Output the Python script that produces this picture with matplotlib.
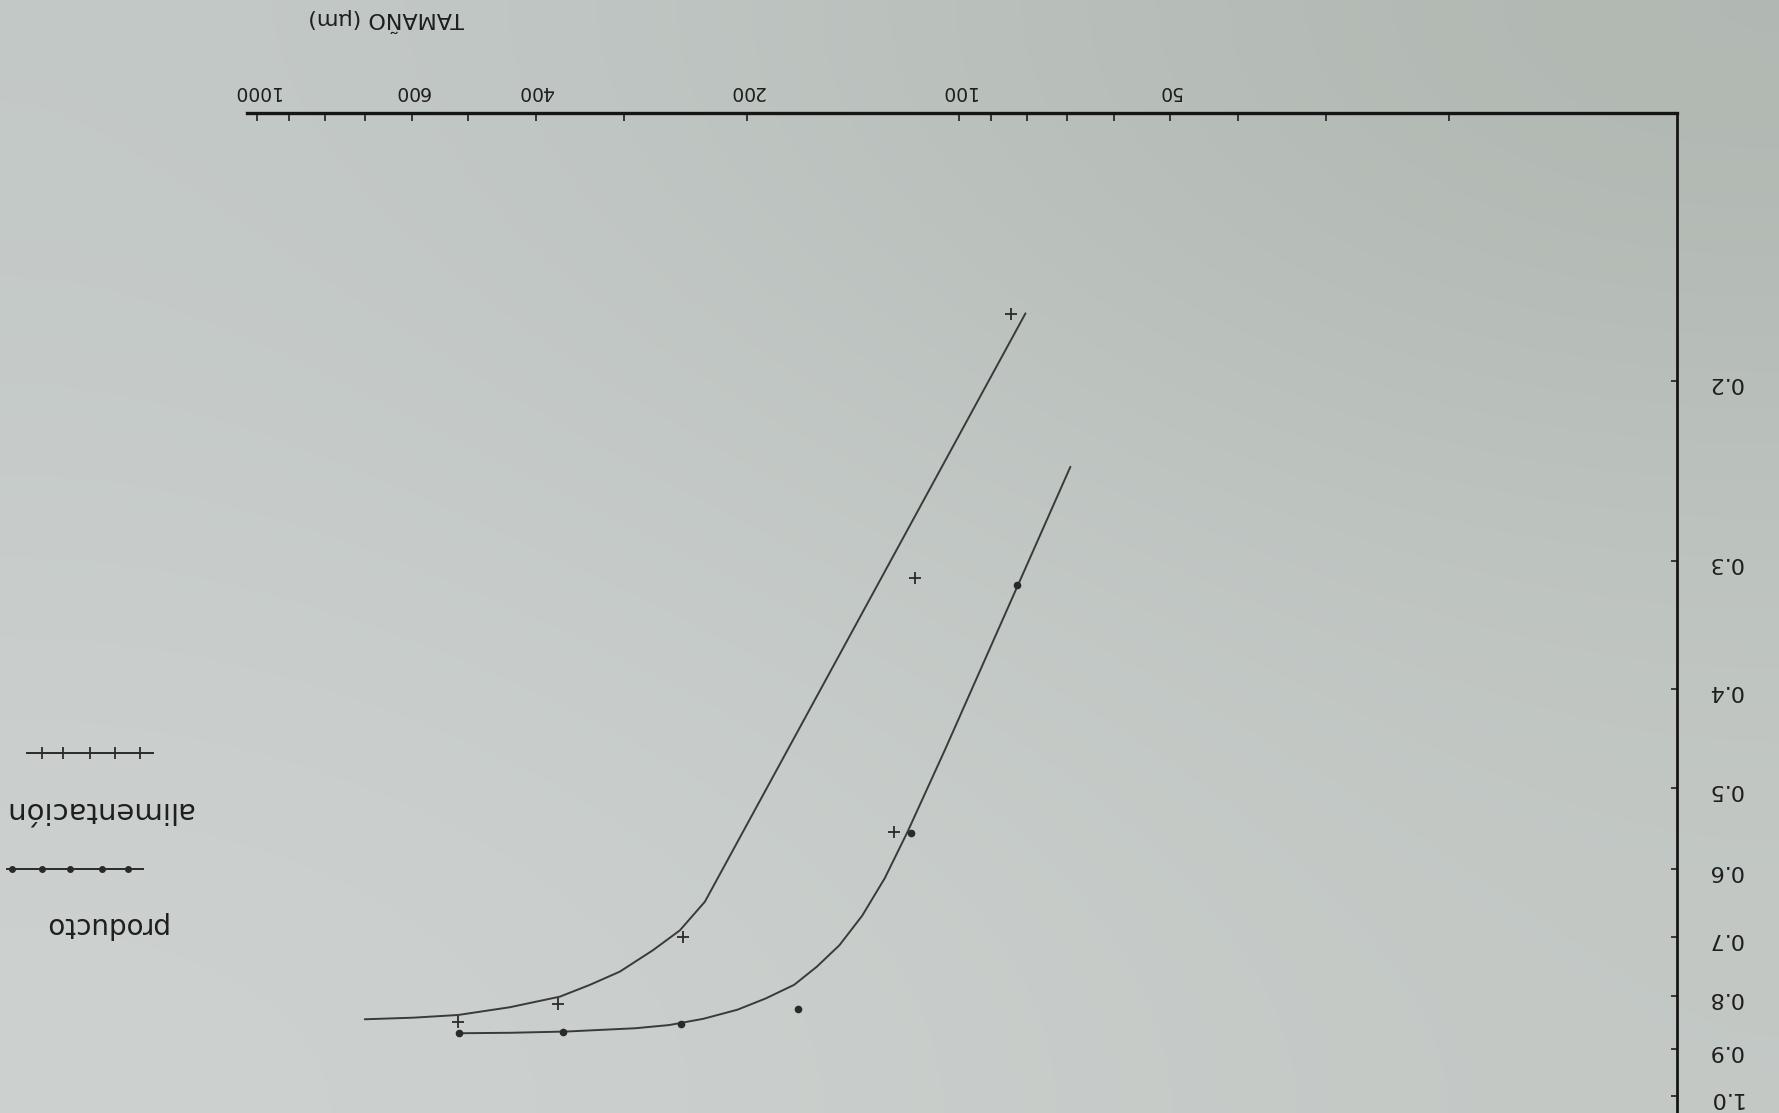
import numpy as np
import matplotlib
matplotlib.use("Agg")
import matplotlib.pyplot as plt
from matplotlib.lines import Line2D
from matplotlib.colors import to_rgb
from matplotlib.ticker import NullLocator

alim_x = [84.1, 115.2, 123.6, 247.3, 371.9, 516.2]
alim_y = [0.172, 0.312, 0.553, 0.700, 0.814, 0.847]
prod_x = [82.5, 117.0, 169.4, 248.4, 365.9, 514.6]
prod_y = [0.317, 0.554, 0.822, 0.851, 0.867, 0.869]

# hand drawn curves, sampled along the pencil line
alim_fit_x = [80.3, 229.8, 249.5, 272.3, 303.8, 335.1, 369.8, 435.8, 516.2, 598.4, 701.3]
alim_fit_y = [0.1719, 0.6462, 0.6894, 0.7206, 0.7565, 0.7793, 0.8003, 0.8196, 0.8340, 0.8391, 0.8421]
prod_fit_x = [69.3, 104.6, 118.2, 127.4, 137.2, 147.8, 159.2, 171.5, 188.3, 206.6,
              231.0, 258.3, 288.8, 361.1, 435.0, 514.6]
prod_fit_y = [0.2428, 0.4593, 0.5520, 0.6130, 0.6670, 0.7127, 0.7481, 0.7793, 0.8036, 0.8242,
              0.8412, 0.8531, 0.8593, 0.8656, 0.8681, 0.8690]

x_ticks = [20, 30, 40, 50, 60, 70, 80, 90, 100, 200, 300, 400, 500, 600, 700, 800, 900, 1000]
x_labeled = {50: "50", 100: "100", 200: "200", 400: "400", 600: "600", 1000: "1000"}
y_ticks = [0.2, 0.3, 0.4, 0.5, 0.6, 0.7, 0.8, 0.9, 1.0]
y_labels = ["0.2", "0.3", "0.4", "0.5", "0.6", "0.7", "0.8", "0.9", "1.0"]

ink = "#2a2a2a"
pencil = "#3a3a3a"

fig = plt.figure(figsize=(17.79, 11.13), dpi=100)

# paper background (photo lighting)
paper = np.array([[to_rgb(c) for c in row] for row in [
    ["#c3c9c7", "#bbc1bd", "#b1b8b2"],
    ["#c8cdcb", "#c3c9c6", "#bec4c0"],
    ["#cdd2d0", "#c9cecc", "#c3c8c5"],
]])
bg = fig.add_axes([0, 0, 1, 1], zorder=-10)
bg.imshow(paper, aspect="auto", interpolation="bicubic", extent=(0, 1, 0, 1))
bg.set_axis_off()

ax = fig.add_axes([0.1390, 0.0, 0.8036, 0.8981])
ax.patch.set_visible(False)
ax.set_xscale("log")
ax.set_yscale("log")
ax.set_xlim(1031, 9.48)
ax.set_ylim(1.0399, 0.1096)

ax.plot(alim_fit_x, alim_fit_y, color=pencil, lw=1.4,
        solid_capstyle="round", solid_joinstyle="round")
ax.plot(prod_fit_x, prod_fit_y, color=pencil, lw=1.4,
        solid_capstyle="round", solid_joinstyle="round")
ax.plot(alim_x, alim_y, ls="none", marker="+", ms=8, mew=1.3, color=ink)
ax.plot(prod_x, prod_y, ls="none", marker="o", ms=4.5, color=ink)

for side in ["left", "bottom"]:
    ax.spines[side].set_visible(False)
ax.spines["top"].set_linewidth(2.4)
ax.spines["right"].set_linewidth(2.0)
ax.spines["top"].set_color("#151515")
ax.spines["right"].set_color("#151515")

ax.xaxis.set_ticks_position("top")
ax.set_xticks(x_ticks)
ax.set_xticklabels([x_labeled.get(t, "") for t in x_ticks])
ax.xaxis.set_minor_locator(NullLocator())
ax.tick_params(axis="x", direction="in", length=6, width=1.2, pad=9,
               labelsize=13.5, labelrotation=180, colors="#1e1e1e")

ax.yaxis.set_ticks_position("right")
ax.set_yticks(y_ticks)
ax.set_yticklabels(y_labels)
ax.yaxis.set_minor_locator(NullLocator())
ax.tick_params(axis="y", direction="in", length=4, width=1.2, pad=22,
               labelsize=16, labelrotation=180, colors="#1e1e1e")

fig.text(0.2169, 0.9817, "TAMAÑO (µm)", rotation=180, fontsize=16,
         ha="center", va="center", color="#1e1e1e")

# hand made legend
fig.text(0.1085, 0.2722, "alimentación", rotation=180, fontsize=21,
         ha="right", va="center", color="#1e1e1e")
fig.text(0.0590, 0.1692, "producto", rotation=180, fontsize=20,
         ha="center", va="center", color="#1e1e1e")
fig.add_artist(Line2D([0.0150, 0.0858], [0.3238, 0.3238], transform=fig.transFigure,
                      color=ink, lw=1.4))
fig.add_artist(Line2D([0.0234, 0.0356, 0.0506, 0.0646, 0.0787], [0.3238] * 5,
                      transform=fig.transFigure, ls="none", marker="|", ms=8,
                      mew=1.3, color=ink))
fig.add_artist(Line2D([0.0038, 0.0806], [0.2195, 0.2195], transform=fig.transFigure,
                      color=ink, lw=1.4))
fig.add_artist(Line2D([0.0066, 0.0234, 0.0393, 0.0572, 0.0718], [0.2195] * 5,
                      transform=fig.transFigure, ls="none", marker="o", ms=4,
                      color=ink))

fig.savefig("out.png", dpi=100)
